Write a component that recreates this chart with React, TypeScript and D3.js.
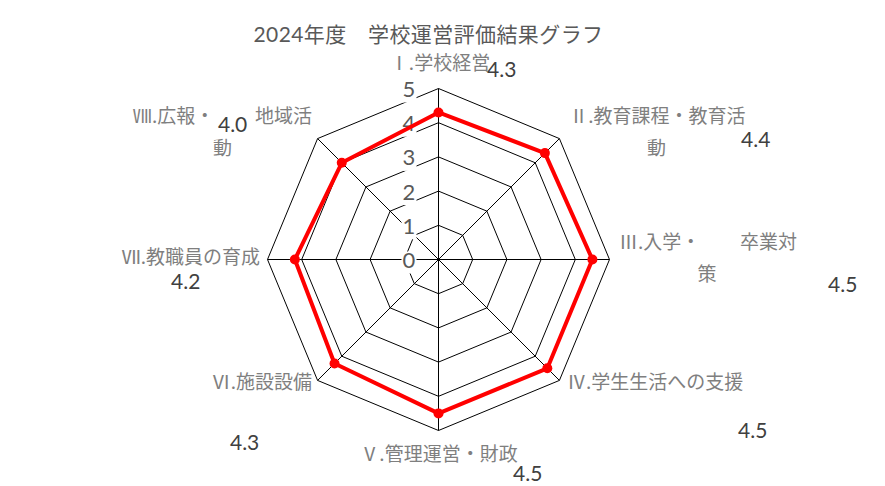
import { useEffect, useRef } from 'react'
import * as d3 from 'd3'

const TITLE = '2024年度　学校運営評価結果グラフ'
const categories = [
  'Ⅰ.学校経営',
  'Ⅱ.教育課程・教育活動',
  'Ⅲ.入学・卒業対策',
  'Ⅳ.学生生活への支援',
  'Ⅴ.管理運営・財政',
  'Ⅵ.施設設備',
  'Ⅶ.教職員の育成',
  'Ⅷ.広報・地域活動',
]
const scores = [4.3, 4.4, 4.5, 4.5, 4.5, 4.3, 4.2, 4.0]
const ticks = [0, 1, 2, 3, 4, 5]

// label layout (offsets from the outer end of each spoke), mimics Excel's odd wrapping
type Piece = { len: number; dx: number; dy: number; anchor: string }
const catLayout: Piece[][] = [
  [{ len: 99, dx: 1.5, dy: -19, anchor: 'middle' }],
  [
    { len: 10, dx: 98, dy: -16, anchor: 'middle' },
    { len: 99, dx: 97, dy: 16, anchor: 'middle' },
  ],
  [
    { len: 5, dx: 9.5, dy: -11, anchor: 'start' },
    { len: 3, dx: 130.5, dy: -11, anchor: 'start' },
    { len: 99, dx: 97.5, dy: 21, anchor: 'middle' },
  ],
  [{ len: 99, dx: 7.6, dy: 9, anchor: 'start' }],
  [{ len: 99, dx: 0.5, dy: 30, anchor: 'middle' }],
  [{ len: 99, dx: -5.6, dy: 9, anchor: 'end' }],
  [{ len: 99, dx: -7.5, dy: 4, anchor: 'end' }],
  [
    { len: 5, dx: -184.6, dy: -16, anchor: 'start' },
    { len: 3, dx: -62.6, dy: -16, anchor: 'start' },
    { len: 99, dx: -95, dy: 16, anchor: 'middle' },
  ],
]
const valueOffsets: [number, number][] = [
  [48.5, -12], [181.6, 8], [218.5, 32], [178.6, 58],
  [74.5, 50], [-87.6, 70], [-96.5, 29], [-99.6, -7],
]

const W = 885
const H = 486
const JP = '"Noto Sans CJK JP", "Noto Sans", sans-serif'
const NUM = 'Lato, "Noto Sans CJK JP", sans-serif'

export default function App() {
  const svgRef = useRef<SVGSVGElement>(null)

  useEffect(() => {
    if (!svgRef.current) return
    document.body.style.margin = '0'
    const svg = d3.select(svgRef.current)
    svg.selectAll('*').remove()

    const cx = 438.5
    const cy = 259.5
    const r = d3.scaleLinear().domain([0, 5]).range([0, 171])
    const angle = d3.scaleLinear().domain([0, categories.length]).range([0, 2 * Math.PI])
    const pt = (i: number, v: number): [number, number] => {
      const a = angle(i)
      return [cx + r(v) * Math.sin(a), cy - r(v) * Math.cos(a)]
    }

    svg.append('rect').attr('width', W).attr('height', H).attr('fill', '#fff')

    svg.append('text')
      .attr('x', 428.5).attr('y', 42)
      .attr('text-anchor', 'middle')
      .attr('fill', '#595959')
      .attr('font-size', 21)
      .attr('letter-spacing', 0.4)
      .attr('font-family', NUM)
      .text(TITLE)

    const g = svg.append('g')
    const ring = d3.line()

    // grid rings
    ticks.slice(1).forEach(t => {
      const pts = categories.map((_, i) => pt(i, t))
      g.append('path')
        .attr('d', ring([...pts, pts[0]]))
        .attr('fill', 'none')
        .attr('stroke', '#000')
        .attr('stroke-width', 1)
    })
    // spokes
    categories.forEach((_, i) => {
      const [x, y] = pt(i, 5)
      g.append('line')
        .attr('x1', cx).attr('y1', cy).attr('x2', x).attr('y2', y)
        .attr('stroke', '#000').attr('stroke-width', 1)
    })

    // tick labels with white backing
    ticks.forEach(t => {
      const y = cy - r(t) + 3
      g.append('rect')
        .attr('x', cx - 37).attr('y', y - 11).attr('width', 15).attr('height', 22)
        .attr('fill', '#fff')
      g.append('text')
        .attr('x', cx - 29.5).attr('y', y)
        .attr('text-anchor', 'middle')
        .attr('dominant-baseline', 'middle')
        .attr('fill', '#595959')
        .attr('font-size', 22)
        .attr('font-family', NUM)
        .text(t)
    })

    // series
    const pts = scores.map((v, i) => pt(i, v))
    g.append('path')
      .attr('d', ring([...pts, pts[0]]))
      .attr('fill', 'none')
      .attr('stroke', '#ff0000')
      .attr('stroke-width', 4)
      .attr('stroke-linejoin', 'round')
    g.selectAll('circle.m')
      .data(pts)
      .join('circle')
      .attr('cx', d => d[0]).attr('cy', d => d[1])
      .attr('r', 5)
      .attr('fill', '#ff0000')

    // category labels
    categories.forEach((c, i) => {
      const [ex, ey] = pt(i, 5)
      let rest = c
      catLayout[i].forEach(p => {
        const part = rest.slice(0, p.len)
        rest = rest.slice(p.len)
        g.append('text')
          .attr('x', ex + p.dx).attr('y', ey + p.dy)
          .attr('text-anchor', p.anchor)
          .attr('fill', '#7f7f7f')
          .attr('font-size', 19)
          .attr('font-family', JP)
          .text(part)
      })
    })

    // value labels
    scores.forEach((v, i) => {
      const [ex, ey] = pt(i, 5)
      g.append('text')
        .attr('x', ex + valueOffsets[i][0]).attr('y', ey + valueOffsets[i][1])
        .attr('fill', '#404040')
        .attr('font-size', 21)
        .attr('font-family', NUM)
        .text(v.toFixed(1))
    })
  }, [])

  return <svg ref={svgRef} width={W} height={H} style={{ display: 'block' }} />
}
